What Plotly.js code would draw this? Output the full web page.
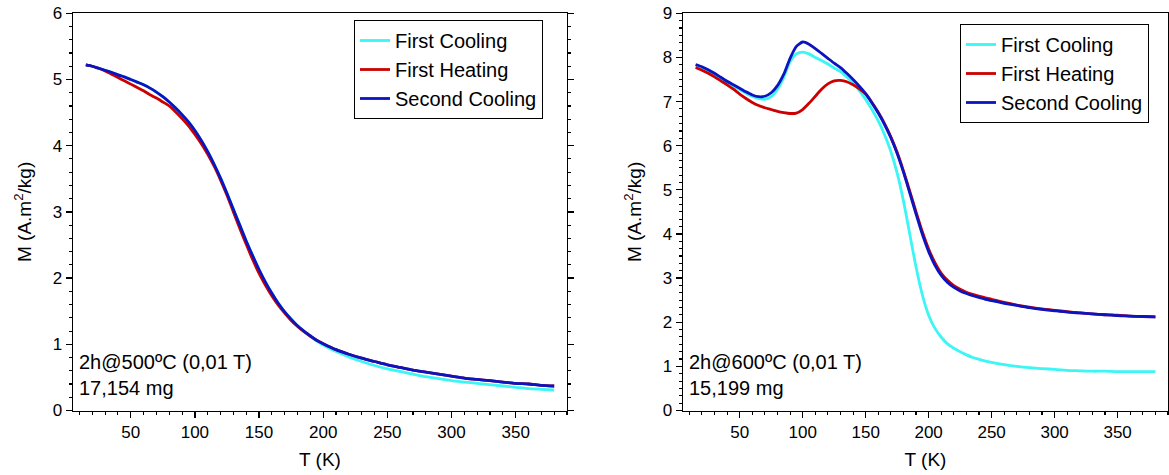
<!DOCTYPE html>
<html>
<head>
<meta charset="utf-8">
<script src="https://cdn.plot.ly/plotly-3.0.1.min.js"></script>
<style>html,body{margin:0;padding:0;background:#fff}#chart{width:1169px;height:475px}</style>
</head>
<body>
<div id="chart"></div>
<script>
// ---------- Left panel: 2h@500ºC ----------
const T500 = [15,20,25,30,35,40,45,50,55,60,65,70,75,80,85,90,95,100,105,110,115,120,125,130,135,140,145,150,155,160,165,170,175,180,185,190,195,200,210,220,230,240,250,260,270,280,290,300,310,320,330,340,350,360,370,380];
const firstCooling500 = [5.22,5.20,5.17,5.14,5.11,5.07,5.04,5.00,4.96,4.92,4.87,4.81,4.74,4.66,4.57,4.47,4.36,4.23,4.08,3.91,3.72,3.51,3.28,3.04,2.80,2.56,2.34,2.13,1.94,1.77,1.62,1.49,1.38,1.28,1.20,1.12,1.05,0.99,0.89,0.81,0.74,0.68,0.63,0.59,0.55,0.51,0.48,0.45,0.43,0.41,0.39,0.37,0.35,0.33,0.32,0.31];
const firstHeating500 = [5.22,5.20,5.17,5.13,5.08,5.03,4.98,4.93,4.88,4.83,4.77,4.72,4.66,4.60,4.51,4.41,4.30,4.17,4.03,3.87,3.69,3.48,3.25,3.00,2.75,2.51,2.28,2.07,1.89,1.73,1.59,1.47,1.36,1.27,1.19,1.12,1.06,1.01,0.92,0.85,0.79,0.74,0.69,0.65,0.61,0.58,0.55,0.52,0.49,0.47,0.45,0.43,0.41,0.40,0.38,0.37];
const secondCooling500 = [5.22,5.20,5.17,5.14,5.11,5.07,5.04,5.00,4.96,4.92,4.87,4.81,4.74,4.66,4.57,4.47,4.36,4.23,4.08,3.91,3.72,3.51,3.28,3.04,2.80,2.56,2.34,2.13,1.94,1.77,1.62,1.49,1.38,1.28,1.20,1.13,1.06,1.01,0.92,0.85,0.79,0.74,0.69,0.65,0.61,0.58,0.55,0.52,0.49,0.47,0.45,0.43,0.41,0.40,0.38,0.37];

// ---------- Right panel: 2h@600ºC ----------
const T600 = [15,20,25,30,35,40,45,50,55,60,65,70,75,80,85,90,95,100,105,110,115,120,125,130,135,140,145,150,155,160,165,170,175,180,185,190,195,200,205,210,215,220,225,230,235,240,245,250,260,270,280,290,300,310,320,330,340,350,360,370,380];
const firstCooling600 = [7.82,7.77,7.70,7.62,7.53,7.44,7.35,7.27,7.19,7.12,7.07,7.05,7.11,7.28,7.55,7.90,8.08,8.12,8.08,8.00,7.93,7.85,7.76,7.68,7.56,7.42,7.25,7.05,6.82,6.56,6.25,5.87,5.38,4.75,4.00,3.25,2.62,2.16,1.86,1.66,1.51,1.41,1.33,1.26,1.20,1.16,1.12,1.09,1.04,1.00,0.97,0.95,0.93,0.91,0.90,0.89,0.89,0.88,0.88,0.88,0.88];
const firstHeating600 = [7.77,7.71,7.64,7.56,7.47,7.38,7.28,7.17,7.07,6.98,6.91,6.86,6.82,6.78,6.75,6.73,6.74,6.82,6.96,7.12,7.28,7.40,7.47,7.48,7.45,7.38,7.29,7.17,6.98,6.76,6.50,6.20,5.85,5.43,4.97,4.50,4.05,3.66,3.35,3.11,2.95,2.83,2.75,2.68,2.63,2.59,2.55,2.52,2.45,2.39,2.34,2.30,2.27,2.24,2.21,2.19,2.17,2.16,2.14,2.13,2.12];
const secondCooling600 = [7.84,7.79,7.72,7.64,7.55,7.46,7.38,7.30,7.22,7.15,7.11,7.12,7.20,7.36,7.62,7.98,8.25,8.35,8.30,8.20,8.09,7.98,7.87,7.77,7.64,7.50,7.35,7.18,6.97,6.74,6.48,6.18,5.82,5.40,4.93,4.45,3.99,3.60,3.29,3.06,2.90,2.79,2.71,2.65,2.60,2.56,2.52,2.49,2.43,2.38,2.33,2.29,2.26,2.23,2.21,2.19,2.17,2.15,2.14,2.13,2.12];

const seriesNames = ["First Cooling", "First Heating", "Second Cooling"];
const seriesColors = ["#3CF5F5", "#CC0000", "#0A14C0"];
const xTickVals = [50,100,150,200,250,300,350];
const notes500 = ["2h@500ºC (0,01 T)", "17,154 mg"];
const notes600 = ["2h@600ºC (0,01 T)", "15,199 mg"];

const FONT = "Liberation Sans, Arial, sans-serif";

function mk(x, y, i, xa, ya, leg) {
  return {x: x, y: y, type: "scatter", mode: "lines", name: seriesNames[i],
    line: {color: seriesColors[i], width: 2.8, shape: "spline", smoothing: 0.6},
    xaxis: xa, yaxis: ya, legend: leg, showlegend: true};
}

const data = [
  mk(T500, firstCooling500, 0, "x", "y", "legend"),
  mk(T500, firstHeating500, 1, "x", "y", "legend"),
  mk(T500, secondCooling500, 2, "x", "y", "legend"),
  mk(T600, firstCooling600, 0, "x2", "y2", "legend2"),
  mk(T600, firstHeating600, 1, "x2", "y2", "legend2"),
  mk(T600, secondCooling600, 2, "x2", "y2", "legend2")
];

const W = 1169, H = 475;
const ydom = [(H - 410.5) / H, (H - 13.3) / H];

function xax(dom, anchor) {
  return {domain: dom, anchor: anchor, range: [5, 390], tickvals: xTickVals,
    ticks: "outside", ticklen: 6, tickwidth: 1.3, tickcolor: "#000",
    minor: {dtick: 10, tick0: 0, ticks: "outside", ticklen: 3, tickwidth: 1.1, tickcolor: "#000"},
    showline: true, linecolor: "#000", linewidth: 1.3, mirror: true,
    showgrid: false, zeroline: false, automargin: false,
    tickfont: {family: FONT, size: 17, color: "#000"},
    title: {text: "T (K)", font: {family: FONT, size: 19, color: "#000"}, standoff: 11}};
}
function xtop(over, anchor) {
  return {overlaying: over, anchor: anchor, side: "top", range: [5, 390], tickvals: xTickVals,
    ticks: "inside", ticklen: 6, tickwidth: 1.3, tickcolor: "#000",
    minor: {dtick: 10, tick0: 0, ticks: "inside", ticklen: 3, tickwidth: 1.1, tickcolor: "#000"},
    showline: true, linecolor: "#000", linewidth: 1.3, showticklabels: false,
    showgrid: false, zeroline: false, automargin: false};
}
function yax(anchor, rng, minorDt) {
  return {domain: ydom, anchor: anchor, range: rng, dtick: 1, tick0: 0,
    ticks: "outside", ticklen: 6, tickwidth: 1.3, tickcolor: "#000",
    minor: {dtick: minorDt, tick0: 0, ticks: "outside", ticklen: 3, tickwidth: 1.1, tickcolor: "#000"},
    showline: true, linecolor: "#000", linewidth: 1.3, mirror: "ticks",
    showgrid: false, zeroline: false, automargin: false,
    tickfont: {family: FONT, size: 17, color: "#000"},
    title: {text: "M (A.m<sup>2</sup>/kg)", font: {family: FONT, size: 19, color: "#000"}, standoff: 16}};
}

const legendBase = {bgcolor: "#fff", bordercolor: "#000", borderwidth: 1,
  font: {family: FONT, size: 20, color: "#000"}, xanchor: "left", yanchor: "top",
  tracegroupgap: 0, itemclick: false};

function note(x, y, t) {
  return {xref: "paper", yref: "paper", x: x, y: y, xanchor: "left", yanchor: "middle",
    text: t, showarrow: false, font: {family: FONT, size: 20, color: "#000"}};
}

const layout = {
  width: W, height: H, margin: {l: 0, r: 0, t: 0, b: 0},
  paper_bgcolor: "#fff", plot_bgcolor: "#fff",
  xaxis: xax([73 / W, 567 / W], "y"),
  yaxis: yax("x", [0, 6], 0.2),
  xaxis3: xtop("x", "y"),
  xaxis2: xax([683 / W, 1168 / W], "y2"),
  yaxis2: yax("x2", [0, 9], 1 / 6),
  xaxis4: xtop("x2", "y2"),
  legend: Object.assign({}, legendBase, {x: 354 / W, y: 1 - 20 / H}),
  legend2: Object.assign({}, legendBase, {x: 960 / W, y: 1 - 24 / H}),
  annotations: [
    note(77 / W, 1 - 362 / H, notes500[0]),
    note(77 / W, 1 - 388 / H, notes500[1]),
    note(687 / W, 1 - 362 / H, notes600[0]),
    note(687 / W, 1 - 388 / H, notes600[1])
  ]
};

Plotly.newPlot("chart", data, layout, {staticPlot: true, displayModeBar: false});
</script>
</body>
</html>
